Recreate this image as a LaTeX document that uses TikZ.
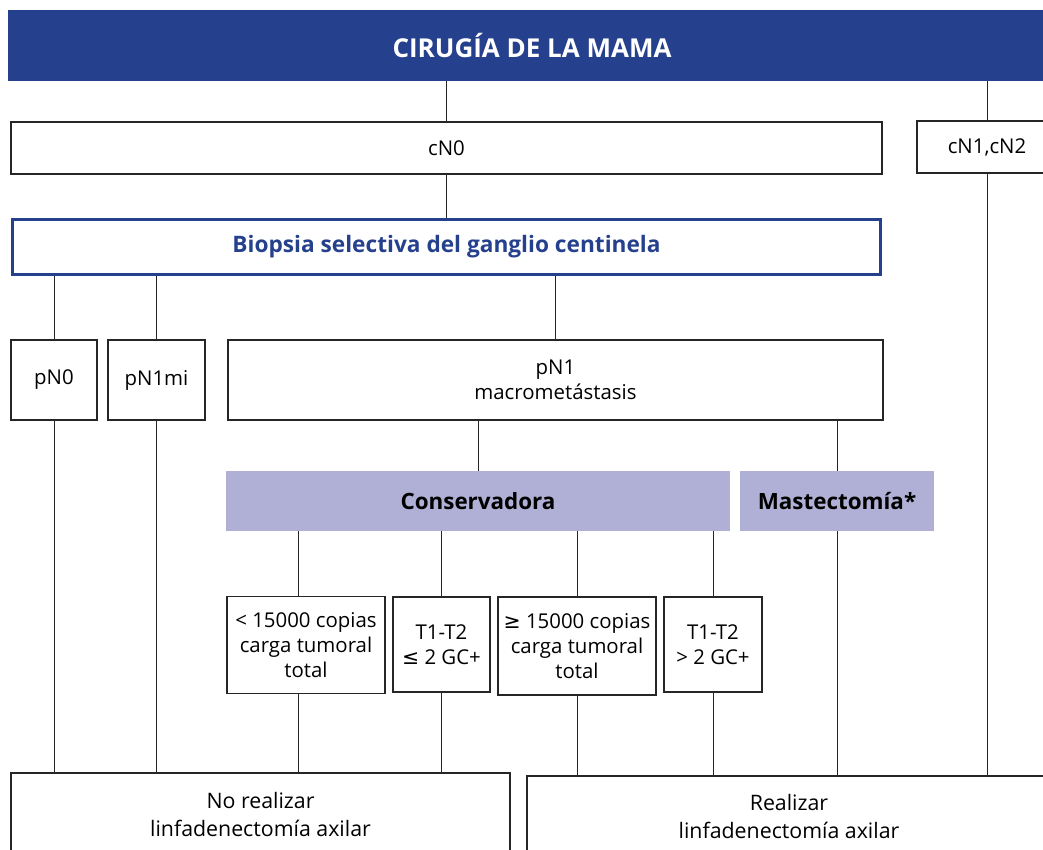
\documentclass[tikz,border=0pt]{standalone}
\usepackage{fontspec}
\setmainfont{Open Sans}
\newfontfamily\symfont{DejaVu Sans}
\definecolor{cabecera}{RGB}{37,64,141}
\definecolor{lila}{RGB}{176,176,214}
\begin{document}
\begin{tikzpicture}[x=0.75pt,y=-0.75pt,
        caja/.style={draw=black!85,line width=0.9pt,align=center,inner sep=0pt,
                font=\fontsize{15.3}{19}\selectfont},
        relleno/.style={fill=lila,align=center,inner sep=0pt,font=\fontsize{16.8}{19}\selectfont\bfseries},
        linea/.style={draw=black!85,line width=0.75pt}]
        \def\u{0.75pt} % one pixel of the reference

        \useasboundingbox (0,0) rectangle (1043,850);
        \clip (0,0) rectangle (1043,850);

        % header and first level
        \node[fill=cabecera,text=white,font=\fontsize{19.5}{22}\selectfont\bfseries,
                minimum width=1048*\u,minimum height=71*\u] (head) at (532,45.5) {CIRUGÍA DE LA MAMA};
        \node[caja,minimum width=871*\u,minimum height=52*\u] (cn0) at (446.5,148) {cN0};
        \node[caja,minimum width=140*\u,minimum height=52*\u] (cn12) at (987,147) {cN1,cN2};
        \node[caja,draw=cabecera,line width=2.3pt,text=cabecera,font=\fontsize{17}{19}\selectfont\bfseries,
                minimum width=868*\u,minimum height=55*\u] (bsgc) at (446.5,247) {Biopsia selectiva del ganglio centinela};

        % pathological stage
        \node[caja,minimum width=86*\u,minimum height=80*\u] (pn0) at (54,380) {pN0};
        \node[caja,minimum width=97*\u,minimum height=80*\u] (pn1mi) at (156.5,380) {pN1mi};
        \node[caja,minimum width=655*\u,minimum height=80*\u] (pn1) at (555.5,380) {pN1\\macrometástasis};

        % type of surgery
        \node[relleno,minimum width=504*\u,minimum height=60*\u] (cons) at (478,501) {Conservadora};
        \node[relleno,minimum width=194*\u,minimum height=60*\u] (mast) at (837,501) {Mastectomía*};

        \node[caja,minimum width=158*\u,minimum height=97*\u] (b1) at (306,645) {< 15000 copias\\carga tumoral\\total};
        \node[caja,minimum width=97*\u,minimum height=95*\u] (b2) at (441.5,644.5) {T1-T2\\{\symfont ≤} 2 GC+};
        \node[caja,minimum width=158*\u,minimum height=98*\u] (b3) at (577,646) {{\symfont ≥} 15000 copias\\carga tumoral\\total};
        \node[caja,minimum width=98*\u,minimum height=95*\u] (b4) at (713,644.5) {T1-T2\\> 2 GC+};

        % decision
        \node[caja,font=\fontsize{16}{21}\selectfont,minimum width=499*\u,minimum height=82*\u] (nolinf) at (260.5,814) {No realizar\\linfadenectomía axilar};
        \node[caja,font=\fontsize{16}{21}\selectfont,minimum width=524*\u,minimum height=80*\u] (linf) at (789,816) {Realizar\\linfadenectomía axilar};

        % connectors
        \draw[linea] (head.south -| cn0.north) -- (cn0.north);
        \draw[linea] (head.south -| cn12.north) -- (cn12.north);
        \draw[linea] (cn0.south) -- (bsgc.north);
        \foreach \n in {pn0,pn1mi,pn1}
                \draw[linea] (bsgc.south -| \n.north) -- (\n.north);
        \foreach \n in {cons,mast}
                \draw[linea] (pn1.south -| \n.north) -- (\n.north);
        \draw[linea] (cons.south -| 298,0) -- (298,0 |- b1.north);
        \foreach \n in {b2,b3,b4}
                \draw[linea] (cons.south -| \n.north) -- (\n.north);
        \draw[linea] (b1.south -| 298,0) -- (298,0 |- nolinf.north);
        \foreach \n in {pn0,pn1mi,b2}
                \draw[linea] (\n.south) -- (\n.south |- nolinf.north);
        \foreach \n in {b3,b4,mast,cn12}
                \draw[linea] (\n.south) -- (\n.south |- linf.north);
\end{tikzpicture}
\end{document}
